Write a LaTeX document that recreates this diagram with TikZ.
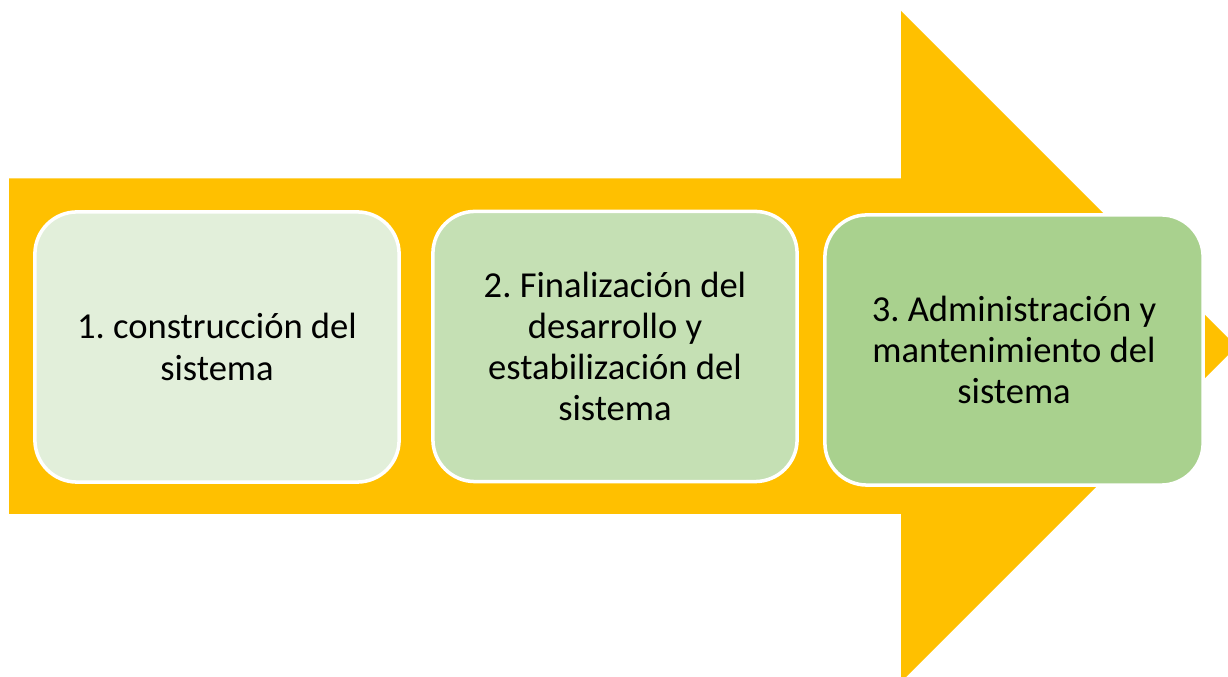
\documentclass[tikz,border=0pt]{standalone}
\usepackage{fontspec}
\setmainfont{Carlito}
\usepackage{tikz}
\definecolor{arrowgold}{HTML}{FFC000}
\definecolor{stepone}{HTML}{E2EFDA}
\definecolor{steptwo}{HTML}{C5E0B4}
\definecolor{stepthree}{HTML}{A9D18E}
\newcommand{\boxfont}{\fontsize{10.4pt}{11.7pt}\selectfont\frenchspacing}
\tikzset{
  phase/.style = {draw=white, line width=1pt, rounded corners=0.42cm,
    minimum width=3.64cm, minimum height=2.7cm, align=center,
    font=\boxfont, text=black, inner sep=0pt}
}

\begin{document}
\begin{tikzpicture}[x=0.01cm, y=-0.01cm]
            \useasboundingbox (0,0) rectangle (1228,677);
            \clip (0,0) rectangle (1228,677);
            % big arrow
            \fill[arrowgold] (9,178.5) -- (901,178.5) -- (901,11)
                -- (1236.5,346.5) -- (901,682) -- (901,514) -- (9,514) -- cycle;
            
            \node[phase, fill=stepone] (p1) at (217,347)
                {1. construcción del\\sistema};
            \node[phase, fill=steptwo] (p2) at (615,346.5)
                {2. Finalización del\\desarrollo y\\estabilización del\\sistema};
            \node[phase, fill=stepthree, minimum width=3.78cm] (p3) at (1014,350)
                {3. Administración y\\mantenimiento del\\sistema};
        \end{tikzpicture}
\end{document}
